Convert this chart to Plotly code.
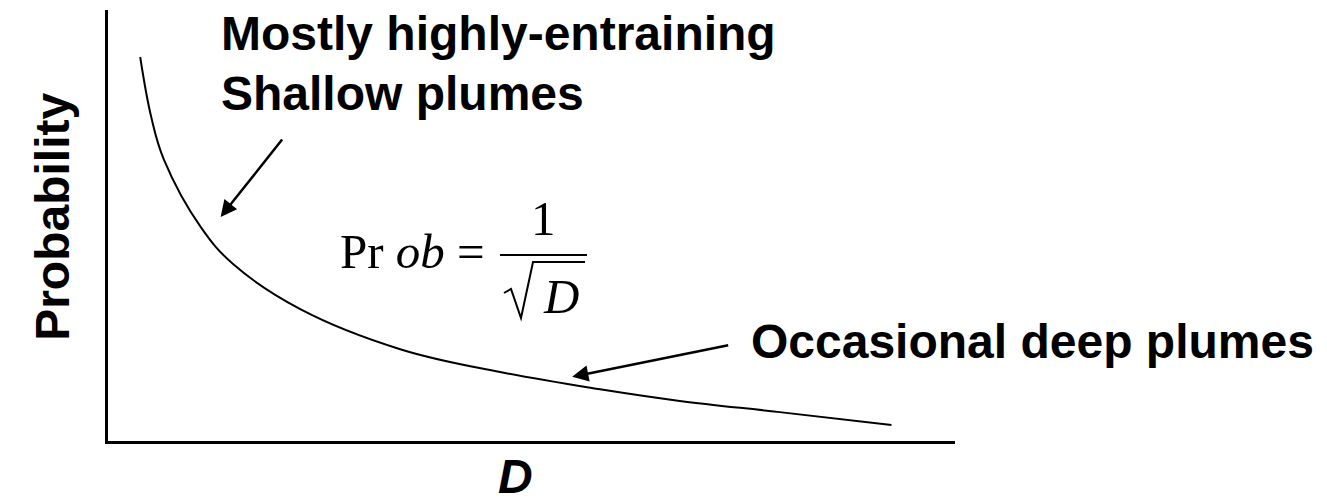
import plotly.graph_objects as go

# curve (arbitrary units, axes run 0..10)
d_vals = [0.38, 0.51, 0.66, 1.10, 1.48, 2.27, 3.45, 4.63, 5.81, 6.75, 7.93, 9.25]
prob_vals = [8.91, 7.52, 6.53, 4.95, 4.10, 3.06, 2.13, 1.60, 1.20, 0.93, 0.67, 0.37]

# arrows: (tail D, tail prob, head D, head prob)
shallow_arrow = [2.07, 7.03, 1.33, 5.20]
deep_arrow = [7.34, 2.23, 5.48, 1.49]

label_font = dict(family="Liberation Sans", size=48, color="black")
math_font = dict(family="Liberation Serif", size=49, color="black")

fig = go.Figure()
fig.add_trace(go.Scatter(x=d_vals, y=prob_vals, mode="lines",
                         line=dict(color="black", width=2, shape="spline", smoothing=1.1),
                         hoverinfo="skip", showlegend=False))

for a in [shallow_arrow, deep_arrow]:
    fig.add_annotation(x=a[2], y=a[3], ax=a[0], ay=a[1], xref="x", yref="y",
                       axref="x", ayref="y", text="", showarrow=True,
                       arrowhead=2, arrowsize=1.3, arrowwidth=2.5, arrowcolor="black")

texts = [
    ("<b>Mostly highly-entraining</b>", 0.131, 0.945, "left", 0, label_font),
    ("<b>Shallow plumes</b>", 0.131, 0.806, "left", 0, label_font),
    ("<b>Occasional deep plumes</b>", 0.7568, 0.2297, "left", 0, label_font),
    ("<b>Probability</b>", -0.065, 0.52, "center", -90, label_font),
    ("<b><i>D</i></b>", 0.4817, -0.0822, "center", 0, label_font),
    ("Pr <i>ob</i> =", 0.2715, 0.4397, "left", 0, math_font),
    ("1", 0.5136, 0.5162, "center", 0, math_font),
    ("<i>D</i>", 0.5348, 0.3353, "center", 0, math_font),
]
for t, x, y, xa, ang, f in texts:
    fig.add_annotation(text=t, x=x, y=y, xref="paper", yref="paper", xanchor=xa,
                       yanchor="middle", textangle=ang, showarrow=False, font=f)

# fraction bar and radical sign
fig.add_shape(type="line", xref="paper", yref="paper", x0=0.4628, x1=0.5655, y0=0.4316, y1=0.4316,
              line=dict(color="black", width=2))
fig.add_shape(type="path", xref="paper", yref="paper",
              path="M0.4675,0.3434 L0.4758,0.3527 L0.4876,0.2854 L0.5018,0.4153 L0.5632,0.4153",
              line=dict(color="black", width=2))

fig.update_xaxes(range=[0, 10], showgrid=False, zeroline=False, showticklabels=False, ticks="",
                 showline=True, linewidth=3, linecolor="black")
fig.update_yaxes(range=[0, 10], showgrid=False, zeroline=False, showticklabels=False, ticks="",
                 showline=True, linewidth=3, linecolor="black")
# page body adds an 8px margin, so the figure is a little smaller than the window
fig.update_layout(width=1311, height=490, margin=dict(l=100, r=364, t=2, b=57),
                  paper_bgcolor="white", plot_bgcolor="white")

fig.write_html("out.html")
